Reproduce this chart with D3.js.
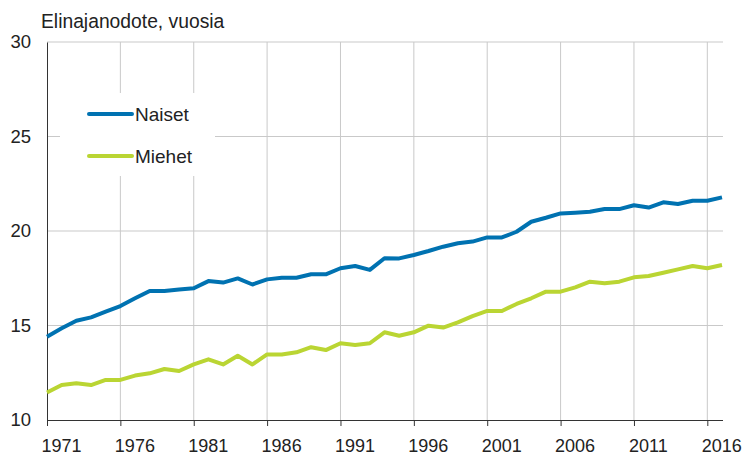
<!DOCTYPE html>
<html>
<head>
<meta charset="utf-8">
<script src="https://cdn.jsdelivr.net/npm/d3@7"></script>
<style>
body{margin:0;background:#fff;}
svg text{font-family:"Liberation Sans",Arial,sans-serif;fill:#222;}
</style>
</head>
<body>
<svg id="c" width="747" height="456"></svg>
<script>
const years = d3.range(1971, 2018);
const naiset = [14.41,14.85,15.25,15.43,15.73,16.03,16.44,16.83,16.83,16.91,16.97,17.35,17.27,17.49,17.17,17.44,17.53,17.53,17.71,17.71,18.03,18.15,17.94,18.56,18.55,18.73,18.94,19.17,19.35,19.44,19.66,19.66,19.96,20.49,20.70,20.93,20.97,21.02,21.16,21.16,21.36,21.24,21.52,21.43,21.60,21.60,21.78];
const miehet = [11.45,11.85,11.94,11.85,12.12,12.12,12.35,12.47,12.70,12.59,12.94,13.21,12.94,13.40,12.94,13.47,13.47,13.58,13.85,13.70,14.06,13.97,14.06,14.64,14.46,14.64,14.99,14.89,15.17,15.50,15.77,15.77,16.14,16.44,16.79,16.79,17.02,17.32,17.23,17.32,17.55,17.62,17.79,17.97,18.15,18.03,18.20];
const xTicks = [1971,1976,1981,1986,1991,1996,2001,2006,2011,2016];
const yTicks = [10,15,20,25,30];
const seriesNames = ["Naiset","Miehet"];
const colors = ["#0072b1","#bad533"];
const title = "Elinajanodote, vuosia";

const svg = d3.select("#c");
const L = 47, R = 722, T = 42, B = 420;
const x = d3.scaleLinear().domain([1971, 2017]).range([L, R]);
const y = d3.scaleLinear().domain([10, 30]).range([B, T]);

// grid
const g = svg.append("g");
g.selectAll(".hg").data(yTicks.filter(d => d > 10)).enter().append("line")
  .attr("x1", L).attr("x2", R + 1).attr("y1", d => y(d)).attr("y2", d => y(d))
  .attr("stroke", "#c9c9c9").attr("stroke-width", 1);
g.selectAll(".vg").data(xTicks.filter(d => d > 1971)).enter().append("line")
  .attr("x1", d => x(d)).attr("x2", d => x(d)).attr("y1", T).attr("y2", B)
  .attr("stroke", "#c9c9c9").attr("stroke-width", 1);

// legend background (covers grid)
svg.append("rect").attr("x", 60).attr("y", 93).attr("width", 155).attr("height", 83).attr("fill", "#fff");

// axes
const xAxis = d3.axisBottom(x).tickValues(xTicks).tickFormat(d3.format("d")).tickSize(6).tickPadding(13);
const xa = svg.append("g").attr("transform", `translate(0,${B})`).call(xAxis);
xa.select(".domain").attr("stroke", "#333").attr("d", `M${L},0.5H${R + 1}`);
xa.selectAll(".tick line").attr("stroke", "#333");
xa.selectAll("text").attr("font-size", 18).attr("fill", "#222").attr("dx", 14);

const yAxis = d3.axisLeft(y).tickValues(yTicks).tickSize(0).tickPadding(16);
const ya = svg.append("g").attr("transform", `translate(${L},0)`).call(yAxis);
ya.select(".domain").attr("stroke", "#333");
ya.selectAll("text").attr("font-size", 18.5).attr("fill", "#222");

// lines
const line = d3.line().x((d, i) => x(years[i])).y(d => y(d));
[naiset, miehet].forEach((s, k) => {
  svg.append("path").datum(s).attr("d", line).attr("fill", "none")
    .attr("stroke", colors[k]).attr("stroke-width", 4).attr("stroke-linejoin", "round");
});

// legend
const ly = [114, 156];
seriesNames.forEach((n, k) => {
  svg.append("line").attr("x1", 89).attr("x2", 132).attr("y1", ly[k]).attr("y2", ly[k])
    .attr("stroke", colors[k]).attr("stroke-width", 4).attr("stroke-linecap", "round");
  svg.append("text").attr("x", 135).attr("y", ly[k] + 7).attr("font-size", 19).text(n);
});

// title
svg.append("text").attr("x", 41).attr("y", 28).attr("font-size", 19.3).text(title);
</script>
</body>
</html>
